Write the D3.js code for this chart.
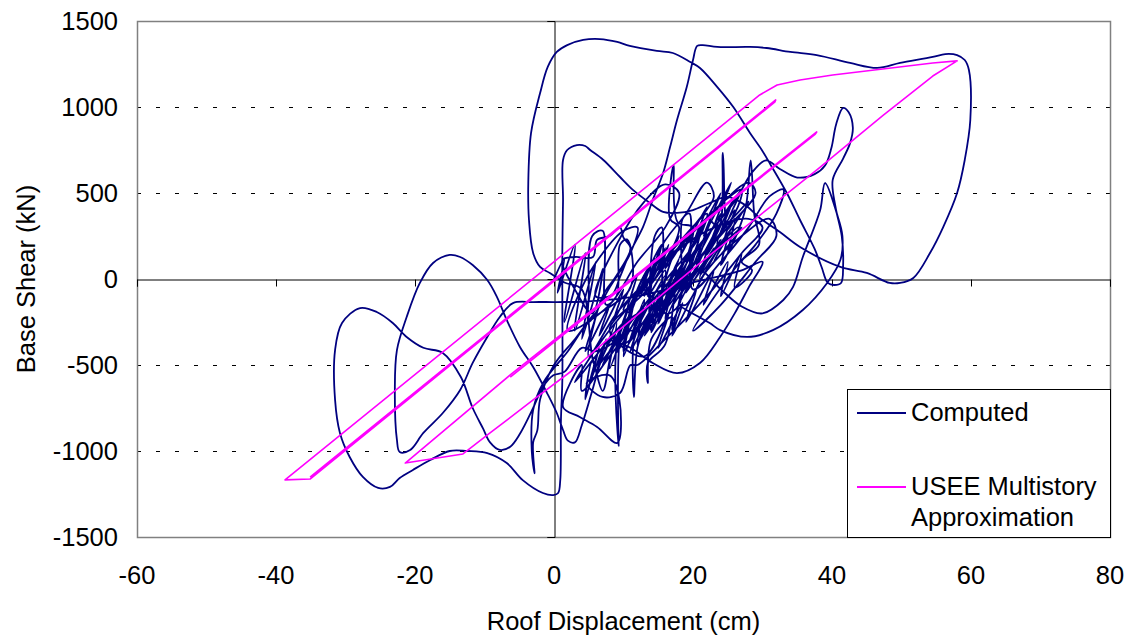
<!DOCTYPE html>
<html><head><meta charset="utf-8">
<script src="https://cdn.jsdelivr.net/npm/d3@7"></script>
<style>
html,body{margin:0;padding:0;background:#fff;}
svg text{font-family:"Liberation Sans",Arial,Helvetica,sans-serif;fill:#000;}
</style></head>
<body><svg id="chart" width="1131" height="637"></svg>
<script>
// ---- data ----
const xTicks = [-60,-40,-20,0,20,40,60,80];
const xTickLabels = ["-60","-40","-20","0","20","40","60","80"];
const yTicks = [-1500,-1000,-500,0,500,1000,1500];
const yTickLabels = ["-1500","-1000","-500","0","500","1000","1500"];
const gridValues = [-1000,-500,500,1000];
const xTitle = "Roof Displacement (cm)";
const yTitle = "Base Shear (kN)";
const seriesNames = ["Computed","USEE Multistory","Approximation"];

// Computed roof displacement (cm), base shear (kN)
const computed = [
 [0,0],[1.5,120],[0.5,-80],[3,200],[1.5,-250],[4.5,150],[3,-300],[6,100],[4,-350],[7,60],[5.5,-200],
 [3,-60],[1.2,110],[3,128],[5.6,128],[6.2,227],[8,250],[9.5,300],[10,240],[11,180],[9,20],[7,-100],
 [5,-450],[9,-200],[14,20],[19,260],[22,380],[21,250],[17,40],[12,-200],[8,-420],[6,-500],
 [4,-60],[1.5,-20],[-0.6,35],[-2,70],[-3,151],[-3.6,343],[-3.7,558],[-3.3,849],[-2,1081],[-0.9,1233],[0.4,1320],[1.9,1360],[4.2,1390],[6.6,1395],[9.1,1378],[10.9,1355],[14.8,1326],[17.1,1314],[19.6,1262],[21,1227],[23.5,1116],[25.8,1000],[28.2,849],[29.9,750],[31.1,669],[33.5,500],[35.4,343],[37.5,175],[38.5,70],[39.4,-23],[40.3,-35],[41.3,-23],[41.6,80],[41.4,250],[40.5,420],[40.1,576],[41.6,700],[42.6,790],[43,880],[42.4,970],[41.6,995],[40.6,900],[39.9,760],[39,660],[37.5,610],[35,590],[32.5,640],[30.5,690],[28.5,620],[26,450],[23,300],[20,150],
 [17,-50],[19,120],[16,-150],[18.5,40],[15,-260],[17,-80],[13,-330],[15.5,-120],[12,-380],[14,-180],[11,-420],[12.5,-200],[9.5,-300],[9.3,-970],[9.6,-300],[11,-150],[10,-420],[12.5,-250],[11.5,-355],[11.5,-686],[12,-400],[14,-150],[12.5,-50],[10.5,-260],[13,0],[15.5,200],[13.5,-100],[16,50],[15,-250],[17.5,80],[16,-380],[13.5,-488],[13.5,-605],[14,-350],[17,-221],[17,-297],[18.5,-50],[20,150],[18,-120],[21,250],[19.5,30],[22.5,330],[20.5,120],[24,380],[22,150],[25.5,430],[23.5,200],[26.5,300],[24,80],[25,260],[21,0],[22,180],[18,-140],[19.5,60],[16,-230],[17.5,10],[14,-310],[15,-80],[12,-380],[13,-120],[10,-450],[11,-200],[8,-520],[9,-250],[6,-560],[7.5,-350],[5,-620],[6.5,-400],[4.5,-700],[5.5,-480],[7,-650],[8.5,-400],[10.5,-300],[12,-60],[14.5,120],[13,-100],[16.5,200],[15,30],[18,300],[16.7,350],[17.2,660],[17.8,330],[20,300],[19,100],[22,350],[23.7,300],[24.3,733],[25,290],[26,350],[25,150],[27.5,400],[28.3,690],[28.8,380],[29.5,200],[27,100],[28.5,50],[26,-50],[27,150],[24,-100],[25,100],[21.5,-150],[23,50],[19,-250],[20.5,-60],[17,-330],[18.5,-140],[15,-400],[16.5,-200],[13,-450],
 [8,-300],[13,-80],[18,180],[25,470],[27,520],[26,380],[21,130],[15,-130],[10,-380],[8,-350],
 [11,-400],[14.2,-488],[17.7,-547],[21,-488],[23.9,-337],[26,-200],[28,-50],[30,100],[27,50],
 [20,-20],[12,-100],[5,-130],[0.4,-134],[-3,-134],[-5.9,-140],[-7.8,-221],[-9.6,-337],[-11.7,-488],[-13.5,-645],[-16,-779],[-18.8,-895],[-20.7,-994],[-22.2,-1006],[-22.6,-936],[-22.9,-645],[-22.6,-413],[-21.2,-221],[-19.3,-23],[-17.4,93],[-15,140],[-13.5,128],[-11.7,81],[-9.6,-6],[-8.2,-105],[-6.8,-238],[-4.9,-395],[-3,-512],[-1,-663],[0.4,-779],[1.3,-878],[2,-940],[3,-950],[4,-850],[5.5,-650],[7,-450],[9,-300],[11,-200],
 [10,-180],[16,100],[22,350],[28,560],[29,500],[25,300],[19,30],[14,-220],[11,-300],
 [14,-100],[12,-280],[16,20],[14.5,-200],[18,120],[16.5,-60],[20,200],[18.5,20],[22,260],[20.5,80],[24,330],[22,140],[26,400],[24.5,220],[27,300],[23,100],[25,250],[21,20],[23,180],[19,-80],[21,100],[17,-160],[19,30],[15,-240],[17,-60],[13,-300],[15,-120],[11,-360],[13,-150],[9,-430],[11,-200],[7,-500],[9.5,-280],
 [3,-600],[7,-350],[12,-100],[17,150],[20,220],[18,60],[13,-180],[8,-450],[4,-650],
 [4,-500],[1.3,-744],[3.7,-802],[6.2,-860],[9.1,-953],[9.4,-700],[8,-560],[4.7,-605],[7,-686],[9.5,-663],[11,-500],
 [12,-500],[16,-350],[22,-100],[27,150],[30,300],[28,350],[22,280],[16,100],[11,-150],[9,-350],
 [6,-420],[4,-400],[1.5,-540],[-0.1,-560],[-1.6,-628],[-3,-750],[-4.9,-900],[-6.3,-975],[-7.8,-994],[-9.2,-950],[-10.2,-870],[-11.7,-750],[-13.4,-570],[-16,-430],[-18.8,-400],[-21.2,-337],[-23.2,-256],[-25.5,-192],[-27.9,-169],[-30.5,-256],[-31.5,-413],[-31.5,-703],[-30.8,-895],[-29.4,-1035],[-27.5,-1151],[-25.3,-1215],[-23.6,-1209],[-22.2,-1157],[-20.3,-1110],[-17.8,-1052],[-15,-1000],[-12.5,-1000],[-9.6,-1012],[-6.8,-1070],[-4.5,-1169],[-1.6,-1244],[-0.1,-1256],[0.6,-1244],
 [0.9,-1169],[1,-820],[1.2,-587],[1.2,-122],[1.2,169],[1.3,459],[1.3,692],[1.9,750],[3.3,779],[4.5,773],[5.2,750],[7.1,692],[9.5,593],[11.4,517],[13.8,442],[15.7,390],[17.7,384],[20,401],[22.4,442],[24.9,477],[27.5,430],[29.6,355],[32.5,273],[35.4,186],[41.2,70],[45,35],[48.3,-23],[49.8,-23],[51.7,6],
 [54.1,151],[56,302],[58,500],[59.1,692],[59.9,924],[59.7,1215],[59.1,1273],[58,1302],[56.3,1308],[54.5,1291],[49.8,1256],[46.5,1227],[42.6,1256],[37.8,1302],[34,1320],[30.6,1343],[28.2,1349],[23.5,1349],[21.4,1360],[20.6,1355],[20,1273],[19.1,1116],[17.7,924],[16.7,767],[15.7,616],[14.2,459],[12.8,302],[10.9,151],[9.5,12],[8.3,-93],
 [6,-100],[9,200],[13,450],[16,550],[18,500],[16,300],[12,100],[8,-150],
 [2,-300],[4,-50],[7,150],[10,280],[12,300],[11,150],[8,-50],[5,-250],
 [5,-100],[5.5,250],[7,280],[7.5,-150],[9,-100],[9.5,200],[10.5,230],[11,-50],
 [5,-250],[2,-420],[-1.5,-600],[-3,-760],[-3.2,-1000],[-2.8,-1130],[-3,-950],[-2.4,-880],[-2,-700],[0,-500],[3,-350],
 [6,-200],[4.5,-420],[8,-150],[6.5,-330],[10,-60],[8.5,-250],[12,30],[10.5,-180],[14,100],[12.5,-90],[16,180],[14,-30],[18,250],[16,60],[20,300],[18,120],[22,420],[20,200],[24,500],[21.5,250],[25.5,560],[23,300],[27,520],[25,330],[28,450],[24,200],[26,320],[22,100],[24,230],[20,-20],[22,120],[18,-100],[20,40],[16,-180],[18,-20],[14,-250],
 [15,150],[19,380],[22,560],[23,480],[20,300],[17,120],
 [14,-300],[14.5,250],[15.5,300],[16,-200],[18,-150],[18.5,350],[19.5,380],[20,-60],
 [24,100],[28,300],[31,480],[33,520],[32,380],[29,200],[26,60],
 [20,-300],[24,-150],[29,100],[32,250],[31,350],[27,250],[22,50],[19,-150],
 [18,-150],[22.4,-256],[23.9,-297],[27.8,-337],[31.5,-297],[35.8,-180],[39.3,-23],[41.2,110],[41.5,250],[40.7,380],[39,558],[38.3,401],[35.8,128],[34.4,-46],[33,-122],[30,-200],[27,-160],[24,-60],[21,50],[19,0],[17,-100]
];

// USEE multistory approximation
const usee = [
 [-35.1,-1152],[31.9,1041],[31.8,1030],[-35.1,-1163],[-38.7,-1168],
 [29.6,1070],[32.1,1128],[35.4,1157],[40.1,1186],[47.3,1221],[54.5,1256],[58,1268],
 [54.5,1180],[47.3,950],[38,640],[21,93],[7.6,-355],[2.7,-529],[-3,-703],[-9.2,-895],[-13.1,-1017],[-21.4,-1070],
 [-6.3,-558],[37.8,855],[37.6,843],[-6.3,-570]
];

// ---- chart ----
const svg = d3.select("#chart");
const L=137, R=1110, T=21, B=537;
const x = d3.scaleLinear().domain([-60,80]).range([L,R]);
const y = d3.scaleLinear().domain([-1500,1500]).range([B,T]);
const FS = 25.5;

svg.append("rect").attr("width",1131).attr("height",637).attr("fill","#fff");

// grid
svg.append("g").selectAll("line").data(gridValues).join("line")
  .attr("x1",L).attr("x2",R)
  .attr("y1",d=>Math.round(y(d))+0.5).attr("y2",d=>Math.round(y(d))+0.5)
  .attr("stroke","#000").attr("stroke-width",1).attr("stroke-dasharray","4,15");

// frame
svg.append("rect").attr("x",L+0.5).attr("y",T+0.5).attr("width",R-L).attr("height",B-T)
  .attr("fill","none").attr("stroke","#808080").attr("stroke-width",1.5);

// axes through origin
const xAxis = d3.axisBottom(x).tickValues(xTicks).tickSize(7).tickFormat("");
const yAxis = d3.axisLeft(y).tickValues(yTicks).tickSize(7).tickFormat("");
const gx = svg.append("g").attr("transform",`translate(0,${Math.round(y(0))+0.5})`).call(xAxis);
const gy = svg.append("g").attr("transform",`translate(${Math.round(x(0))+0.5},0)`).call(yAxis);
[gx,gy].forEach(g=>{
  g.select(".domain").attr("stroke","#000").attr("stroke-width",1);
  g.selectAll(".tick line").attr("stroke","#000").attr("stroke-width",1);
});

// tick labels
svg.append("g").selectAll("text").data(xTicks).join("text")
  .attr("x",d=>x(d)).attr("y",584).attr("text-anchor","middle").attr("font-size",FS)
  .text((d,i)=>xTickLabels[i]);
svg.append("g").selectAll("text").data(yTicks).join("text")
  .attr("x",118).attr("y",d=>y(d)+9).attr("text-anchor","end").attr("font-size",FS)
  .text((d,i)=>yTickLabels[i]);

// titles
svg.append("text").attr("x",(L+R)/2).attr("y",630).attr("text-anchor","middle").attr("font-size",FS).text(xTitle);
svg.append("text").attr("transform",`translate(35,${(T+B)/2}) rotate(-90)`).attr("text-anchor","middle").attr("font-size",FS).text(yTitle);

// clip
svg.append("clipPath").attr("id","clip").append("rect").attr("x",L).attr("y",T).attr("width",R-L).attr("height",B-T);

const line = d3.line().x(d=>x(d[0])).y(d=>y(d[1])).curve(d3.curveCatmullRom.alpha(0.5));
const lineStraight = d3.line().x(d=>x(d[0])).y(d=>y(d[1]));

const plot = svg.append("g").attr("clip-path","url(#clip)");
plot.append("path").datum(computed).attr("d",line)
  .attr("fill","none").attr("stroke","#000080").attr("stroke-width",1.8).attr("stroke-linejoin","round");
plot.append("path").datum(usee).attr("d",lineStraight)
  .attr("fill","none").attr("stroke","#FF00FF").attr("stroke-width",1.6).attr("stroke-linejoin","round");

// legend
const lg = svg.append("g");
lg.append("rect").attr("x",847.5).attr("y",389.5).attr("width",R-847).attr("height",B-389)
  .attr("fill","#fff").attr("stroke","#000").attr("stroke-width",1);
lg.append("line").attr("x1",857).attr("x2",906).attr("y1",413).attr("y2",413).attr("stroke","#000080").attr("stroke-width",2);
lg.append("text").attr("x",911).attr("y",421).attr("font-size",FS).text(seriesNames[0]);
lg.append("line").attr("x1",857).attr("x2",906).attr("y1",487).attr("y2",487).attr("stroke","#FF00FF").attr("stroke-width",2);
lg.append("text").attr("x",911).attr("y",495).attr("font-size",FS).text(seriesNames[1]);
lg.append("text").attr("x",911).attr("y",526).attr("font-size",FS).text(seriesNames[2]);
</script></body></html>
